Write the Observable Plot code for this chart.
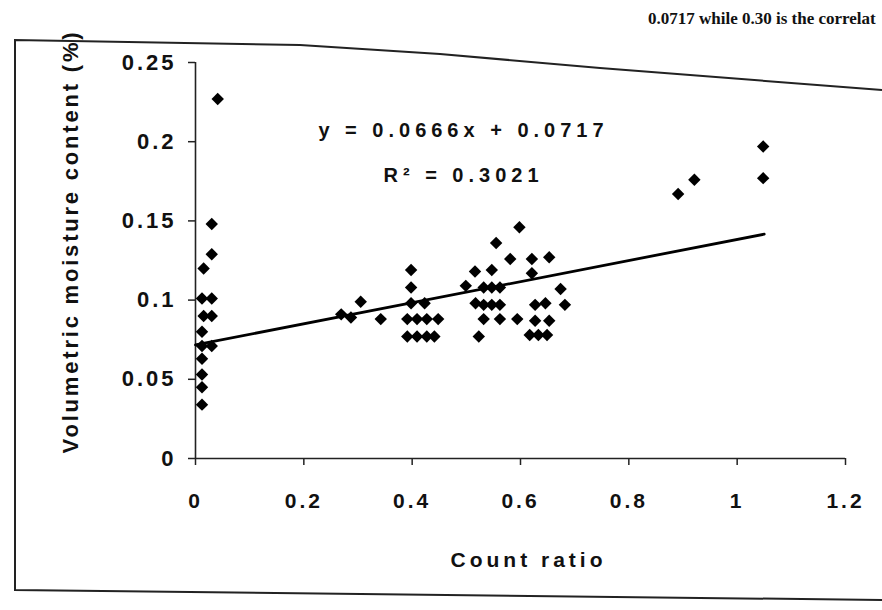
<!DOCTYPE html>
<html><head><meta charset="utf-8">
<script src="https://cdn.jsdelivr.net/npm/d3@7"></script>
<script src="https://cdn.jsdelivr.net/npm/@observablehq/plot@0.6"></script>
<style>
html,body{margin:0;padding:0;background:#fff;width:882px;height:610px;overflow:hidden;}
#wrap{position:relative;width:882px;height:610px;}
#page-text{position:absolute;left:648px;top:9px;white-space:nowrap;font-family:"Liberation Serif",serif;font-size:17px;font-weight:bold;color:#111;}
#frame{position:absolute;left:0;top:0;}
#chart{position:absolute;left:0;top:0;}
</style></head><body>
<div id="wrap">
<div id="page-text">0.0717 while 0.30 is the correlat</div>
<svg id="frame" width="882" height="610"><polyline points="882,90 600,68 440,54 300,45 15,40 15,590 882,600" fill="none" stroke="#222" stroke-width="2"/></svg>
<div id="chart"></div>
</div>
<script>
// Count ratio (x) and volumetric moisture content (y) for each sample
const countRatio = [
  0.041, 0.030, 0.030, 0.015, 0.012, 0.030, 0.015, 0.030, 0.012, 0.012, 0.030, 0.012, 0.012, 0.012, 0.012,
  0.269, 0.287, 0.305, 0.342,
  0.398, 0.398, 0.398, 0.423, 0.391, 0.409, 0.427, 0.448, 0.391, 0.409, 0.427, 0.441,
  0.598, 0.555, 0.581, 0.516, 0.547, 0.499, 0.532, 0.547, 0.562, 0.517, 0.532, 0.547, 0.562, 0.532, 0.562, 0.594, 0.523,
  0.621, 0.653, 0.621, 0.674, 0.682, 0.627, 0.646, 0.627, 0.653, 0.617, 0.633, 0.649,
  0.891, 0.921, 1.048, 1.048
];
const moisture = [
  0.227, 0.148, 0.129, 0.120, 0.101, 0.101, 0.090, 0.090, 0.080, 0.071, 0.071, 0.063, 0.053, 0.045, 0.034,
  0.091, 0.089, 0.099, 0.088,
  0.119, 0.108, 0.098, 0.098, 0.088, 0.088, 0.088, 0.088, 0.077, 0.077, 0.077, 0.077,
  0.146, 0.136, 0.126, 0.118, 0.119, 0.109, 0.108, 0.108, 0.108, 0.098, 0.097, 0.097, 0.097, 0.088, 0.088, 0.088, 0.077,
  0.126, 0.127, 0.117, 0.107, 0.097, 0.097, 0.098, 0.087, 0.087, 0.078, 0.078, 0.078,
  0.167, 0.176, 0.197, 0.177
];
const xTicks = [0, 0.2, 0.4, 0.6, 0.8, 1, 1.2];
const yTicks = [0, 0.05, 0.1, 0.15, 0.2, 0.25];
const xTickLabels = ["0", "0.2", "0.4", "0.6", "0.8", "1", "1.2"];
const yTickLabels = ["0", "0.05", "0.1", "0.15", "0.2", "0.25"];
const trendSlope = 0.0666;
const trendIntercept = 0.0717;
const rSquared = "0.3021";
const trendRange = [0, 1.05];
const xTitle = "Count ratio";
const yTitle = "Volumetric moisture content (%)";

const points = countRatio.map((x, i) => ({x, y: moisture[i]}));
const trend = trendRange.map(x => ({x, y: trendSlope * x + trendIntercept}));
const eqText = `y = ${trendSlope}x + ${trendIntercept}`;
const r2Text = `R² = ${rSquared}`;

const font = "'Liberation Sans', Arial, sans-serif";
const chart = Plot.plot({
  width: 882,
  height: 610,
  marginLeft: 195,
  marginRight: 37,
  marginTop: 62,
  marginBottom: 152,
  style: {fontFamily: font, background: "transparent", color: "#111", overflow: "visible"},
  x: {domain: [0, 1.2]},
  y: {domain: [0, 0.25]},
  marks: [
    Plot.axisX({ticks: xTicks, tickFormat: (d, i) => xTickLabels[i], tickSize: 7, tickPadding: 28, label: null,
      fontSize: 21, fontWeight: "bold", stroke: "#222", strokeWidth: 1.5}),
    Plot.axisY({ticks: yTicks, tickFormat: (d, i) => yTickLabels[i], tickSize: 7, tickPadding: 12, label: null,
      fontSize: 22, fontWeight: "bold", stroke: "#222", strokeWidth: 1.5}),
    Plot.ruleX([0], {stroke: "#222", strokeWidth: 1.6}),
    Plot.ruleY([0], {stroke: "#222", strokeWidth: 1.6}),
    Plot.line(trend, {x: "x", y: "y", stroke: "#000", strokeWidth: 2.8}),
    Plot.dot(points, {x: "x", y: "y", symbol: "diamond2", r: 5.6, fill: "#000", stroke: "none"}),
    Plot.text([eqText], {frameAnchor: "top-left", dx: 268, dy: 60, fontSize: 20, fontWeight: "bold", textAnchor: "middle", fill: "#111"}),
    Plot.text([r2Text], {frameAnchor: "top-left", dx: 268, dy: 105, fontSize: 20, fontWeight: "bold", textAnchor: "middle", fill: "#111"}),
    Plot.text([xTitle], {frameAnchor: "bottom", dx: 8, dy: 108, fontSize: 21, fontWeight: "bold", fill: "#111"}),
    Plot.text([yTitle], {frameAnchor: "left", dx: -125, dy: -19, rotate: -90, textAnchor: "middle", fontSize: 22, fontWeight: "bold", fill: "#111"})
  ]
});
document.getElementById("chart").append(chart);
// letter spacing to match the scanned typography
chart.querySelectorAll("text").forEach(t => {
  const s = t.textContent;
  if (s === eqText || s === r2Text) t.style.letterSpacing = "5px";
  else if (s === xTitle) t.style.letterSpacing = "4px";
  else if (s === yTitle) t.style.letterSpacing = "2.8px";
  else t.style.letterSpacing = "3px";
});
</script>
</body></html>
